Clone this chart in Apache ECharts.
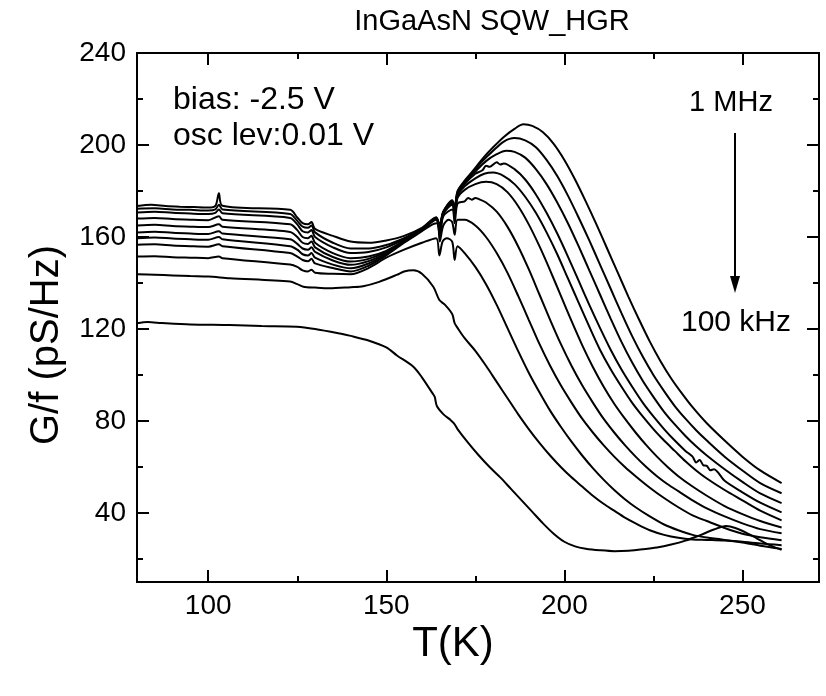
<!DOCTYPE html>
<html>
<head>
<meta charset="utf-8">
<script src="https://cdn.jsdelivr.net/npm/echarts@6/dist/echarts.min.js"></script>
<style>
html,body{margin:0;padding:0;background:#fff;}
#chart{width:826px;height:696px;}
</style>
</head>
<body>
<div id="chart"></div>
<script>
// ---- data (T in K, G/f in pS/Hz), 1 MHz (top) ... 100 kHz (bottom) ----
const curve1 = [[80,173.5],[84,174],[88,173.5],[92,173.2],[96,173],[100,172.8],[102,173.5],[103,179],[104,173.6],[123,171.8],[125,168.5],[126.5,166],[128,165.5],[129,166.5],[130,163.5],[135,160.5],[140,158],[145,157.5],[150,158.5],[155,160.5],[160,164],[164,168.5],[165,165],[166,171],[168.5,176],[169.2,173],[170,180],[172,184.5],[175,190],[177,194],[180,199],[183,203.5],[186,207],[188.5,209],[191,208.3],[194,205.5],[197,200.5],[200,193.5],[203,185],[206,175.5],[209,165.5],[212,155],[215,144.5],[218,134],[221,124],[224,114.5],[227,106],[230,98.5],[233,92],[236,86],[240,79],[245,71.5],[250,64.5],[255,58.5],[261,53]];
const curve2 = [[80,172.3],[85,172.5],[90,172],[95,171.8],[100,171.5],[102,172],[103,174],[104,172],[123,170],[125,167],[126.5,164.5],[128,164],[129,165],[130,162],[135,157.5],[140,155],[145,155],[150,156.5],[155,159.5],[160,163.5],[164,168.5],[165,165],[166,171],[168.5,175.5],[169.2,172.5],[170,179.5],[172,184],[175,189.5],[177,193],[180,197.5],[183,201.5],[186,203],[189,202],[192,199],[195,193.5],[198,186.5],[201,178],[204,168.5],[207,158.5],[210,148],[213,137.5],[216,127],[219,117],[222,108],[225,100],[228,93],[231,86.5],[234,81],[237,76],[240,71.5],[245,64.5],[250,58.5],[255,53],[261,48.6]];
const curve3 = [[80,170.6],[85,171],[90,170.5],[95,170.2],[100,170],[102,170.5],[103,172],[104,170.3],[123,168.3],[125,165.5],[126.5,162.5],[128,162],[129,163],[130,160],[135,155.5],[140,153],[145,153.5],[150,155.5],[155,159],[160,163],[164,168],[165,164.5],[166,170.5],[168.5,175.5],[169.2,172],[170,179],[172,183.5],[175,188.5],[178,193],[181,196],[183.7,197.5],[186,197],[189,194.5],[192,189.5],[195,183],[198,175],[201,166],[204,156],[207,145.5],[210,135],[213,124.5],[216,114.5],[219,105.5],[222,97.5],[225,90.5],[228,84],[231,78.5],[234,73.5],[237,69],[240,65],[245,59],[250,53.5],[255,48.5],[261,44.3]];
const curve4 = [[80,168],[85,168.3],[90,167.8],[95,167.5],[100,167.3],[103,169],[104,167.5],[123,165.5],[125,163],[126.5,160],[128,159.5],[129,160.5],[130,157.5],[135,153],[140,150.8],[145,151.5],[150,154],[155,158.5],[160,163],[164,168],[165,164],[166,170.5],[168.5,175],[169.2,171.5],[170,178.5],[172,183],[175,187.5],[177,189],[178,191],[179,190.5],[181,192.5],[182,191.5],[183,192],[186,189.5],[189,185],[192,178.5],[195,170.5],[198,161.5],[201,151.5],[204,141],[207,130.5],[210,120.5],[213,111],[216,102.5],[219,95],[222,88],[225,82],[228,76.5],[231,71.5],[234,67],[236,64.5],[237,62],[238,63],[239,60.8],[240,60.5],[241,58.6],[242,59],[245,54],[250,49],[255,44.5],[261,40.3]];
const curve5 = [[80,165],[85,165.3],[90,164.8],[95,164.5],[100,164.3],[103,165.5],[104,164.5],[123,162.2],[125,160],[126.5,157.5],[128,157],[129,158],[130,155.5],[135,151.3],[140,149.3],[145,150.5],[150,153.5],[155,158],[160,163],[164,168],[165,163],[166,170],[168.5,174.5],[169.2,170],[170,178],[172,182],[175,185.5],[177.5,187.5],[180,188],[183,186.5],[186,183],[189,177.5],[192,170.5],[195,162],[198,152.5],[201,142],[204,131.5],[207,121],[210,111],[213,102.5],[216,95],[219,88],[222,82],[225,76.5],[228,71.5],[231,67],[234,62.5],[237,58.5],[240,55],[245,50],[250,45.5],[255,41],[261,36.8]];
const curve6 = [[80,162],[85,162.3],[90,161.8],[95,161.5],[100,161.3],[103,162.5],[104,161.5],[123,159],[125,157],[126.5,155],[128,154.5],[129,155.5],[130,153.5],[135,149.8],[140,147.9],[145,149.5],[150,153],[155,158],[160,163],[164,168],[165,162],[166,170],[168.5,174],[169.2,169],[170,177],[172,180.5],[175,183],[178,184],[181,183],[184,179.5],[187,173.5],[190,165.5],[193,156],[196,145.5],[199,134.5],[202,123.5],[205,113],[208,103.5],[211,95],[214,87.5],[217,81],[220,75],[223,69.5],[226,64.5],[229,60],[232,56],[236,51.5],[240,47.5],[245,43],[250,39.5],[255,36.5],[261,33.7]];
const curve7 = [[80,159.5],[85,159.8],[90,159.3],[95,159],[100,158.8],[103,160],[104,159],[123,156],[125,154.5],[126.5,152.5],[128,152],[129,153],[130,151],[135,148],[140,146.4],[145,148.5],[150,152.5],[155,158],[160,163],[164,167.5],[165,161],[166,169],[168.5,172],[169.2,166],[170,174.5],[172,175.5],[173,177],[174,176.2],[175,177],[176,176.5],[178,175],[181,171],[184,164.5],[187,156],[190,146],[193,135],[196,124],[199,113.5],[202,104],[205,95.5],[208,88],[211,81],[214,75],[217,69.5],[220,64.5],[223,60],[226,56],[229,52.5],[232,49.5],[236,45.5],[240,42],[245,38.5],[250,35.5],[255,33],[261,31.2]];
const curve8 = [[80,156.6],[85,156.8],[90,156.3],[95,156],[100,155.8],[103,156.8],[104,156],[123,153],[125,151.5],[126.5,150],[128,149.5],[129,150.5],[130,148.5],[135,146.5],[140,145],[145,147.5],[150,152],[155,157.5],[160,162.5],[163,165.5],[164.4,166],[165,158],[166,165],[167.5,167.5],[168.5,166.5],[169.2,161],[170,167.5],[172,167.5],[175,165],[178,160],[181,153],[184,144.5],[187,134.5],[190,124],[193,113.5],[196,104],[199,95.5],[202,88],[205,81],[208,75],[211,69.5],[214,64.5],[217,60],[220,56],[224,51],[228,46.5],[232,42.5],[236,39],[240,36.5],[245,33.5],[250,31],[255,29.5],[261,28.2]];
const curve9 = [[80,151.5],[85,151.6],[90,151.2],[95,151],[100,150.8],[103,151.5],[104,150.8],[123,148],[125,147],[126.5,145.5],[128,145],[129,145.8],[130,144.5],[135,144],[140,143.8],[145,146.5],[150,151],[155,154.5],[160,157.5],[164,159.5],[164.9,152],[165.8,158],[167,159.5],[168.5,158],[169.2,150],[170,156],[172,153],[175,147],[178,139.5],[181,130.5],[184,120.5],[187,110.5],[190,101],[193,92.5],[196,84.5],[199,77.5],[202,71],[205,65],[208,59.5],[211,54.5],[214,50],[217,46],[220,42.5],[224,38.5],[228,35],[232,32.5],[236,30.5],[240,29.3],[245,28.3],[250,27.5],[255,26.7],[261,26]];
const curve10 = [[80,143.8],[85,143.6],[90,143.3],[95,143],[100,142.8],[106,142.1],[123,140.6],[125,139.5],[126.7,138.4],[130,138],[134,137.7],[140,138.2],[143.5,138.6],[148,140.5],[152.9,143.5],[155,145],[157.6,145.5],[160,144],[163.2,138.4],[164.9,132.6],[166.5,130.5],[168.5,126.5],[169.2,122.5],[170,120.5],[172,116],[175,110.5],[178,104],[181,97],[184,90],[187,83],[190,76.5],[193,70.5],[196,65],[199,60],[202,55.5],[205,51.5],[208,47.5],[211,44],[214,41],[217,38],[220,35.5],[224,32.5],[228,30.5],[232,29.2],[236,28.5],[240,28.3],[245,28],[250,27.2],[255,25.8],[261,24.4]];
const curve11 = [[80,122.5],[83,123],[87,122.6],[95,122],[106,121.7],[115,121.3],[124.9,121],[130,120],[137,118],[140,117],[145,115],[150,112],[153,108.5],[157.6,103.6],[160,99],[163,92],[163.6,90.5],[164.2,86.5],[166,83],[168,80.5],[169,79],[170,76.5],[173,70.5],[176,65],[179,60],[182,55.5],[185,50.5],[188,45.5],[191,40.5],[194,35.5],[197,31],[200,27.5],[203,25.5],[206,24.5],[210,23.8],[214,23.4],[218,23.6],[222,24.2],[226,25],[230,26.3],[234,28],[238,30.3],[242,32.8],[245.4,34.3],[248,33.5],[251,31.5],[254,29],[257,26.5],[261,24]];
const curves = [curve1, curve2, curve3, curve4, curve5, curve6, curve7, curve8, curve9, curve10, curve11];

const xMajorTicks = [100, 150, 200, 250];
const xMinorTicks = [125, 175, 225];
const yMajorTicks = [40, 80, 120, 160, 200, 240];
const yMinorTicks = [20, 60, 100, 140, 180, 220];
const xRange = [80, 271.5];
const yRange = [10, 240];

const FONT = '"Liberation Sans", Arial, Helvetica, sans-serif';
const chart = echarts.init(document.getElementById('chart'), null, {renderer: 'canvas'});

function xAx(pos, ticks, len, labels) {
  return {
    type: 'value', min: xRange[0], max: xRange[1], position: pos,
    axisLine: {show: true, onZero: false, lineStyle: {color: '#000', width: 2}},
    axisTick: {show: true, inside: true, length: len, customValues: ticks, lineStyle: {color: '#000', width: 2}},
    axisLabel: labels ? {show: true, customValues: ticks, fontSize: 28, color: '#000', fontFamily: FONT, margin: 10} : {show: false},
    splitLine: {show: false}
  };
}
function yAx(pos, ticks, len, labels) {
  return {
    type: 'value', min: yRange[0], max: yRange[1], position: pos,
    axisLine: {show: true, onZero: false, lineStyle: {color: '#000', width: 2}},
    axisTick: {show: true, inside: true, length: len, customValues: ticks, lineStyle: {color: '#000', width: 2}},
    axisLabel: labels ? {show: true, customValues: ticks, fontSize: 28, color: '#000', fontFamily: FONT, margin: 11} : {show: false},
    splitLine: {show: false}
  };
}

const option = {
  animation: false,
  backgroundColor: '#fff',
  grid: {left: 137, right: 7, top: 53, bottom: 114, containLabel: false},
  xAxis: [
    xAx('bottom', xMajorTicks, 12, true),
    xAx('bottom', xMinorTicks, 6, false),
    xAx('top', xMajorTicks, 12, false),
    xAx('top', xMinorTicks, 6, false)
  ],
  yAxis: [
    yAx('left', yMajorTicks, 12, true),
    yAx('left', yMinorTicks, 6, false),
    yAx('right', yMajorTicks, 12, false),
    yAx('right', yMinorTicks, 6, false)
  ],
  series: curves.map((d, i) => ({
    type: 'line', name: 'c' + (i + 1), data: d, xAxisIndex: 0, yAxisIndex: 0,
    showSymbol: false, smooth: 0.3,
    lineStyle: {color: '#000', width: 2}, silent: true
  })),
  graphic: [
    {type: 'text', x: 492, y: 22, style: {text: 'InGaAsN SQW_HGR', font: '29px ' + FONT, fill: '#000', textAlign: 'center', textVerticalAlign: 'middle'}},
    {type: 'text', x: 173, y: 100, style: {text: 'bias: -2.5 V', font: '32px ' + FONT, fill: '#000', textAlign: 'left', textVerticalAlign: 'middle'}},
    {type: 'text', x: 173, y: 136, style: {text: 'osc lev:0.01 V', font: '32px ' + FONT, fill: '#000', textAlign: 'left', textVerticalAlign: 'middle'}},
    {type: 'text', x: 731, y: 103, style: {text: '1 MHz', font: '29px ' + FONT, fill: '#000', textAlign: 'center', textVerticalAlign: 'middle'}},
    {type: 'text', x: 736, y: 323, style: {text: '100 kHz', font: '30px ' + FONT, fill: '#000', textAlign: 'center', textVerticalAlign: 'middle'}},
    {type: 'line', shape: {x1: 735, y1: 133, x2: 735, y2: 280}, style: {stroke: '#000', lineWidth: 2}},
    {type: 'polygon', shape: {points: [[730, 276], [740, 276], [735, 293]]}, style: {fill: '#000'}},
    {type: 'text', x: 453, y: 644, style: {text: 'T(K)', font: '42px ' + FONT, fill: '#000', textAlign: 'center', textVerticalAlign: 'middle'}},
    {type: 'text', x: 47, y: 345, rotation: Math.PI / 2, style: {text: 'G/f (pS/Hz)', font: '40px ' + FONT, fill: '#000', textAlign: 'center', textVerticalAlign: 'middle'}}
  ]
};
chart.setOption(option);
</script>
</body>
</html>
